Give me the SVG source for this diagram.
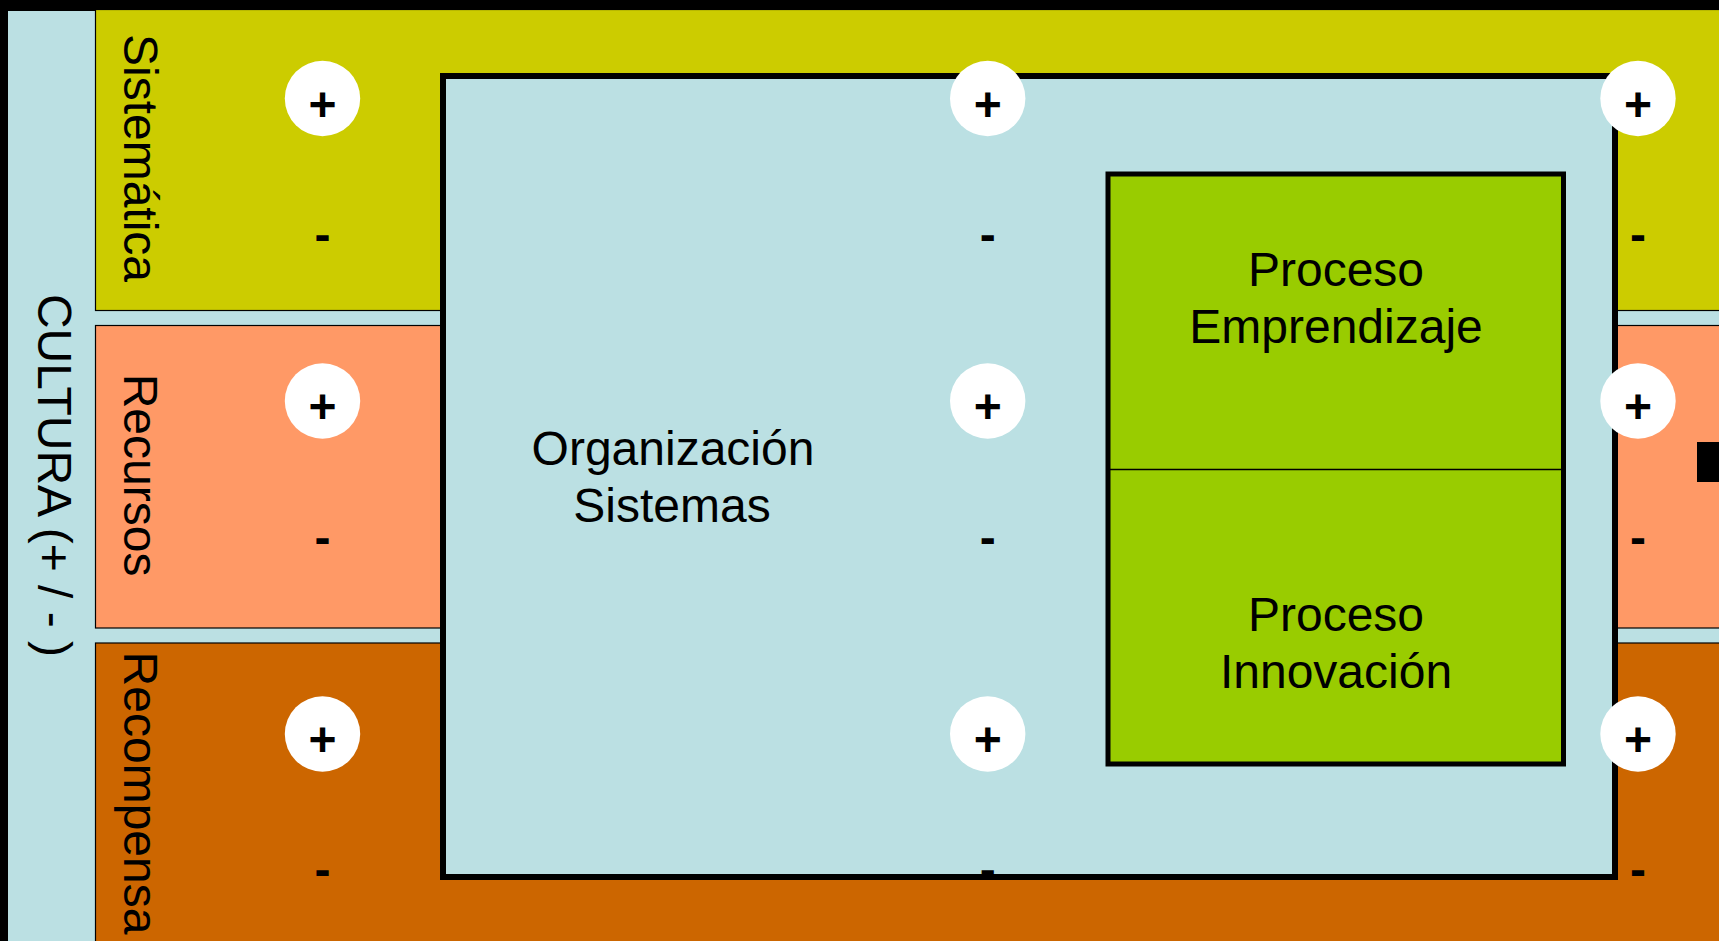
<svg xmlns="http://www.w3.org/2000/svg" width="1719" height="941" viewBox="0 0 1719 941">
  <style>
    .lbl { font-family: "Liberation Sans", Arial, sans-serif; font-size: 48px; fill: #000; }
    .sign { font-family: "Liberation Sans", Arial, sans-serif; font-size: 48px; font-weight: bold; fill: #000; text-anchor: middle; }
    .band { stroke: #000; stroke-width: 1.2; }
    .dot { fill: #fff; }
  </style>

  <!-- frame and base -->
  <rect x="0" y="0" width="1719" height="941" fill="#000"/>
  <rect x="8" y="11" width="1711" height="930" fill="#BBE0E3"/>

  <!-- culture strip label -->
  <g id="cultura">
    <text class="lbl" text-anchor="middle" transform="translate(38,475.5) rotate(90)">CULTURA (+ / - )</text>
  </g>

  <!-- horizontal bands -->
  <g id="band-sistematica">
    <rect class="band" x="95.5" y="9.5" width="1700" height="301" fill="#CCCC00"/>
    <text class="lbl" text-anchor="middle" transform="translate(124,158) rotate(90)">Sistemática</text>
  </g>
  <g id="band-recursos">
    <rect class="band" x="95.5" y="325.5" width="1700" height="302.5" fill="#FF9966"/>
    <text class="lbl" text-anchor="middle" transform="translate(124,475) rotate(90)">Recursos</text>
  </g>
  <g id="band-recompensa">
    <rect class="band" x="95.5" y="643" width="1700" height="320" fill="#CC6600"/>
    <text class="lbl" text-anchor="middle" transform="translate(124,793) rotate(90)">Recompensa</text>
  </g>

  <!-- marker at right edge -->
  <rect x="1697" y="442" width="40" height="40" fill="#000"/>

  <!-- organisation box -->
  <g id="organizacion">
    <rect x="443" y="76" width="1172" height="801" fill="#BBE0E3" stroke="#000" stroke-width="6"/>
    <text class="lbl" text-anchor="middle" x="673" y="465">Organización</text>
    <text class="lbl" text-anchor="middle" x="672" y="522">Sistemas</text>
  </g>

  <!-- process box -->
  <g id="procesos">
    <rect x="1108" y="174" width="455.5" height="590" fill="#99CC00" stroke="#000" stroke-width="5"/>
    <line x1="1108" y1="469.5" x2="1563.5" y2="469.5" stroke="#000" stroke-width="1.5"/>
    <g id="proceso-emprendizaje">
      <text class="lbl" text-anchor="middle" x="1336" y="286">Proceso</text>
      <text class="lbl" text-anchor="middle" x="1336" y="343">Emprendizaje</text>
    </g>
    <g id="proceso-innovacion">
      <text class="lbl" text-anchor="middle" x="1336" y="631">Proceso</text>
      <text class="lbl" text-anchor="middle" x="1336" y="688">Innovación</text>
    </g>
  </g>

  <!-- plus / minus markers in three columns -->
  <g id="signos">
    <g id="col-left">
      <circle class="dot" cx="322.5" cy="98.5" r="37.7"/>
      <text class="sign" x="322.5" y="120.5">+</text>
      <text class="sign" x="322.5" y="251">-</text>
      <circle class="dot" cx="322.5" cy="401" r="37.7"/>
      <text class="sign" x="322.5" y="423">+</text>
      <text class="sign" x="322.5" y="553.5">-</text>
      <circle class="dot" cx="322.5" cy="734" r="37.7"/>
      <text class="sign" x="322.5" y="756">+</text>
      <text class="sign" x="322.5" y="886">-</text>
    </g>
    <g id="col-mid">
      <circle class="dot" cx="987.7" cy="98.5" r="37.7"/>
      <text class="sign" x="987.7" y="120.5">+</text>
      <text class="sign" x="987.7" y="251">-</text>
      <circle class="dot" cx="987.7" cy="401" r="37.7"/>
      <text class="sign" x="987.7" y="423">+</text>
      <text class="sign" x="987.7" y="553.5">-</text>
      <circle class="dot" cx="987.7" cy="734" r="37.7"/>
      <text class="sign" x="987.7" y="756">+</text>
      <text class="sign" x="987.7" y="886">-</text>
    </g>
    <g id="col-right">
      <circle class="dot" cx="1638" cy="98.5" r="37.7"/>
      <text class="sign" x="1638" y="120.5">+</text>
      <text class="sign" x="1638" y="251">-</text>
      <circle class="dot" cx="1638" cy="401" r="37.7"/>
      <text class="sign" x="1638" y="423">+</text>
      <text class="sign" x="1638" y="553.5">-</text>
      <circle class="dot" cx="1638" cy="734" r="37.7"/>
      <text class="sign" x="1638" y="756">+</text>
      <text class="sign" x="1638" y="886">-</text>
    </g>
  </g>
</svg>
